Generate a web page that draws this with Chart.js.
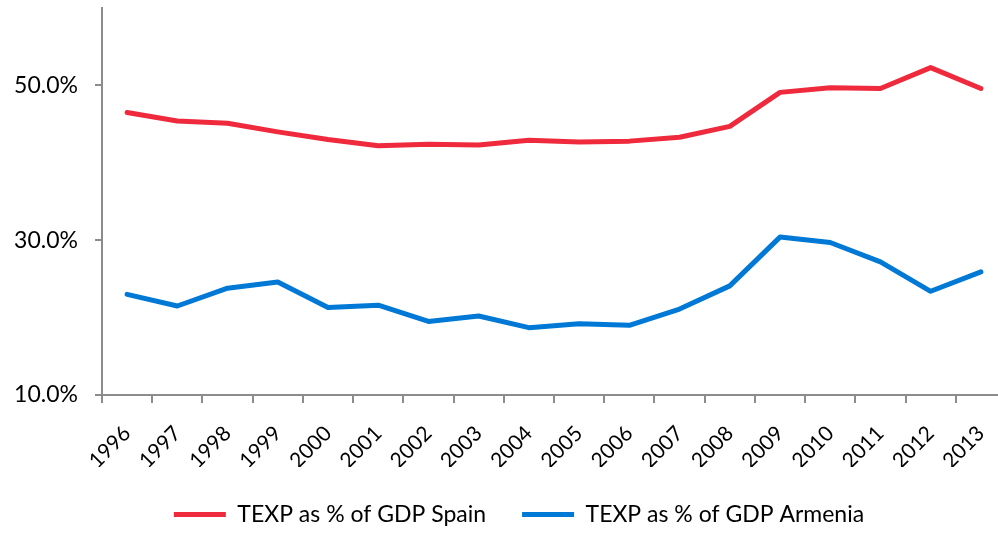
<!DOCTYPE html>
<html>
<head>
<meta charset="utf-8">
<script src="https://cdn.jsdelivr.net/npm/chart.js@4.4.1/dist/chart.umd.min.js"></script>
<style>
  html, body { margin: 0; padding: 0; background: #ffffff; overflow: hidden; }
  #wrap { position: relative; width: 1038px; height: 533px; }
</style>
</head>
<body>
<div id="wrap"><canvas id="c"></canvas></div>
<script>
const categories = ['1996','1997','1998','1999','2000','2001','2002','2003','2004','2005','2006','2007','2008','2009','2010','2011','2012','2013'];
const spainValues = [46.5, 45.4, 45.1, 44.0, 43.0, 42.2, 42.4, 42.3, 42.9, 42.7, 42.8, 43.3, 44.7, 49.1, 49.7, 49.6, 52.3, 49.6];
const armeniaValues = [23.0, 21.5, 23.8, 24.6, 21.3, 21.6, 19.5, 20.2, 18.7, 19.2, 19.0, 21.1, 24.1, 30.4, 29.7, 27.2, 23.4, 25.9];
const yTickValues = [10, 30, 50];
const seriesNames = ['TEXP as % of GDP Spain', 'TEXP as % of GDP Armenia'];

const axisColor = '#8c8c8c';
const fontFamily = 'Lato, "Liberation Sans", sans-serif';

new Chart(document.getElementById('c'), {
  type: 'line',
  data: {
    labels: categories,
    datasets: [
      {
        label: seriesNames[0],
        data: spainValues,
        borderColor: '#ee2a3c',
        backgroundColor: '#ee2a3c',
        borderWidth: 5,
        borderCapStyle: 'round',
        borderJoinStyle: 'round',
        pointRadius: 0,
        tension: 0
      },
      {
        label: seriesNames[1],
        data: armeniaValues,
        borderColor: '#0079d6',
        backgroundColor: '#0079d6',
        borderWidth: 5,
        borderCapStyle: 'round',
        borderJoinStyle: 'round',
        pointRadius: 0,
        tension: 0
      }
    ]
  },
  options: {
    responsive: true,
    maintainAspectRatio: false,
    animation: false,
    layout: { padding: { top: 8, left: 0, right: 0, bottom: -3 } },
    plugins: {
      tooltip: { enabled: false },
      legend: {
        position: 'bottom',
        align: 'center',
        labels: {
          usePointStyle: true,
          pointStyle: 'line',
          pointStyleWidth: 52,
          padding: 36,
          color: '#000000',
          font: { family: fontFamily, size: 23 }
        }
      }
    },
    scales: {
      x: {
        type: 'category',
        offset: true,
        grid: {
          display: true,
          offset: true,
          drawOnChartArea: false,
          drawTicks: true,
          tickLength: 8,
          color: axisColor,
          lineWidth: 2
        },
        border: { display: true, color: axisColor, width: 2 },
        ticks: {
          autoSkip: false,
          minRotation: 45,
          maxRotation: 45,
          padding: 18,
          color: '#000000',
          font: { family: fontFamily, size: 21 }
        },
        afterFit: (scale) => {
          scale.height = 72;
          scale.paddingRight = 32;
          scale.paddingLeft = 0;
        }
      },
      y: {
        min: 10,
        max: 60,
        grid: {
          display: true,
          drawOnChartArea: false,
          drawTicks: true,
          tickLength: 7,
          color: axisColor,
          lineWidth: 2
        },
        border: { display: true, color: axisColor, width: 2 },
        afterBuildTicks: (scale) => {
          scale.ticks = yTickValues.map(v => ({ value: v }));
        },
        ticks: {
          padding: 17,
          color: '#000000',
          font: { family: fontFamily, size: 23 },
          callback: (v) => Number(v).toFixed(1) + '%'
        },
        afterFit: (scale) => {
          scale.width = 102;
          scale.paddingTop = 0;
          scale.paddingBottom = 0;
        }
      }
    }
  }
});
</script>
</body>
</html>
